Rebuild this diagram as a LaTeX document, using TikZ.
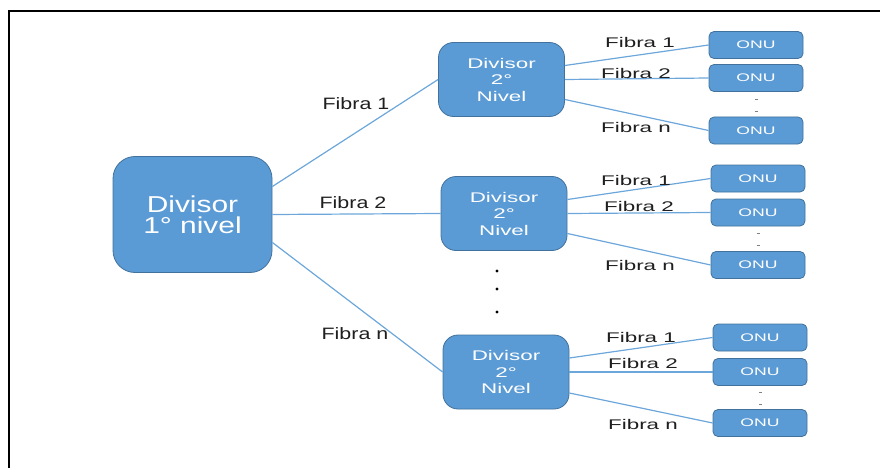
\documentclass[tikz,border=0pt]{standalone}
\usepackage{fontspec}
\setmainfont{Liberation Sans}
\newfontfamily\leftfont[FakeStretch=1.3]{Liberation Sans}
\newfontfamily\rightfont[FakeStretch=1.6]{Liberation Sans}
\usetikzlibrary{calc}
\definecolor{boxblue}{HTML}{5B9BD5}
\definecolor{boxedge}{HTML}{41719C}
\definecolor{fibreblue}{HTML}{6CA6DA}
\definecolor{labelgray}{HTML}{1F1F1F}

\begin{document}
\begin{tikzpicture}[x=1pt, y=-1pt,
    box/.style = {draw=boxedge, fill=boxblue, text=white, align=center, inner sep=0pt, line width=0.8pt},
    divuno/.style = {box, minimum width=159pt, minimum height=116pt, rounded corners=22pt, font=\leftfont\fontsize{23}{21}\selectfont},
    divdos/.style = {box, minimum width=126pt, minimum height=74pt, rounded corners=15pt, font=\rightfont\fontsize{14}{16.5}\selectfont},
    onu/.style = {box, minimum width=94pt, minimum height=27pt, rounded corners=5pt, font=\rightfont\fontsize{11}{13}\selectfont},
    fibra/.style = {draw=fibreblue, line width=1.2pt},
    lblL/.style = {text=labelgray, inner sep=0pt, font=\leftfont\fontsize{16.5}{18}\selectfont},
    lblR/.style = {text=labelgray, inner sep=0pt, font=\rightfont\fontsize{14}{16}\selectfont},
    gap/.style = {draw=gray, line width=0.8pt}]

    \useasboundingbox (0,0) rectangle (880,468);
    \draw[line width=2pt] (9,468) -- (9,11) -- (880,11);

    % divisores
    \node[divuno] (du) at (192.5,214.5) {Divisor\\1° nivel};
    \node[divdos] (dd1) at (501.5,79.5) {Divisor\\2°\\Nivel};
    \node[divdos] (dd2) at (504,213.5) {Divisor\\2°\\Nivel};
    \node[divdos] (dd3) at (506,372) {Divisor\\2°\\Nivel};

    % ONUs
    \node[onu] (o11) at (756,45) {ONU};
    \node[onu] (o12) at (756,78) {ONU};
    \node[onu] (o13) at (756,130.5) {ONU};
    \node[onu] (o21) at (758,178.5) {ONU};
    \node[onu] (o22) at (758,212.5) {ONU};
    \node[onu] (o23) at (758,265) {ONU};
    \node[onu] (o31) at (760,337.5) {ONU};
    \node[onu] (o32) at (760,372) {ONU};
    \node[onu] (o33) at (760,423) {ONU};

    % fibras
    \draw[fibra] ([yshift=28pt]du.east) -- (dd1.west);
    \draw[fibra] (du.east) -- (dd2.west);
    \draw[fibra] ([yshift=-28pt]du.east) -- (dd3.west);

    \draw[fibra] ([yshift=14pt]dd1.east) -- (o11.west);
    \draw[fibra] (dd1.east) -- (o12.west);
    \draw[fibra] ([yshift=-20pt]dd1.east) -- (o13.west);
    \draw[fibra] ([yshift=14pt]dd2.east) -- (o21.west);
    \draw[fibra] (dd2.east) -- (o22.west);
    \draw[fibra] ([yshift=-20pt]dd2.east) -- (o23.west);
    \draw[fibra] ([yshift=14pt]dd3.east) -- (o31.west);
    \draw[fibra] (dd3.east) -- (o32.west);
    \draw[fibra] ([yshift=-21pt]dd3.east) -- (o33.west);

    \node[lblL] (fu1) at (356,104) {Fibra 1};
    \node[lblL] (fu2) at (353,203) {Fibra 2};
    \node[lblL] (fun) at (355,334) {Fibra n};

    \node[lblR] (fa1) at (640,42) {Fibra 1};
    \node[lblR] (fa2) at (636,73) {Fibra 2};
    \node[lblR] (fan) at (636,127) {Fibra n};
    \node[lblR] (fb1) at (636,180) {Fibra 1};
    \node[lblR] (fb2) at (639,206) {Fibra 2};
    \node[lblR] (fbn) at (640,265) {Fibra n};
    \node[lblR] (fc1) at (641,337) {Fibra 1};
    \node[lblR] (fc2) at (643,363) {Fibra 2};
    \node[lblR] (fcn) at (643,424) {Fibra n};

    % puntos
    \draw[gap] ($(o12.south)!0.3!(o13.north)$) ++(-1.5,0) -- ++(3,0);
    \draw[gap] ($(o12.south)!0.78!(o13.north)$) ++(-1.5,0) -- ++(3,0);
    \draw[gap] ($(o22.south)!0.3!(o23.north)$) ++(-1.5,0) -- ++(3,0);
    \draw[gap] ($(o22.south)!0.78!(o23.north)$) ++(-1.5,0) -- ++(3,0);
    \draw[gap] ($(o32.south)!0.3!(o33.north)$) ++(-1.5,0) -- ++(3,0);
    \draw[gap] ($(o32.south)!0.78!(o33.north)$) ++(-1.5,0) -- ++(3,0);

    \fill (497,271) circle[radius=1.6pt];
    \fill (497,289) circle[radius=1.6pt];
    \fill (497,312) circle[radius=1.6pt];

\end{tikzpicture}
\end{document}
